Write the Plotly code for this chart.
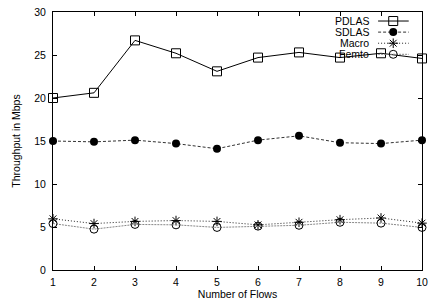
import plotly.graph_objects as go

flows = [1, 2, 3, 4, 5, 6, 7, 8, 9, 10]
pdlas = [20.0, 20.6, 26.7, 25.2, 23.1, 24.7, 25.3, 24.7, 25.2, 24.6]
sdlas = [15.0, 14.9, 15.1, 14.7, 14.1, 15.1, 15.6, 14.8, 14.7, 15.1]
macro = [5.95, 5.4, 5.65, 5.75, 5.65, 5.25, 5.55, 5.85, 6.05, 5.45]
femto = [5.4, 4.75, 5.3, 5.25, 4.95, 5.1, 5.2, 5.55, 5.45, 4.95]

y_ticks = [0, 5, 10, 15, 20, 25, 30]
series_names = ["PDLAS", "SDLAS", "Macro", "Femto"]

FONT = "Liberation Sans, Arial, Helvetica, sans-serif"

styles = [
    dict(line=dict(color="black", width=1, dash="solid"),
         marker=dict(symbol="square-open", size=9, color="black", line=dict(width=1, color="black"))),
    dict(line=dict(color="#333333", width=1, dash="3px,2px"),
         marker=dict(symbol="circle", size=8, color="black")),
    dict(line=dict(color="#222222", width=1, dash="1px,2px"),
         marker=dict(symbol="asterisk-open", size=8, color="black", line=dict(width=1, color="black"))),
    dict(line=dict(color="#888888", width=1, dash="2px,1px"),
         marker=dict(symbol="circle-open", size=8, color="black", line=dict(width=1, color="black"))),
]

fig = go.Figure()
for name, vals, st in zip(series_names, [pdlas, sdlas, macro, femto], styles):
    fig.add_trace(go.Scatter(x=flows, y=vals, mode="lines+markers", name=name,
                             line=st["line"], marker=st["marker"], cliponaxis=False,
                             showlegend=False))

# gnuplot-style key: text right-aligned, sample to the right
key_rows = [0.965, 0.922, 0.879, 0.836]
for name, st, ky in zip(series_names, styles, key_rows):
    fig.add_trace(go.Scatter(x=[0.881, 0.964], y=[ky, ky], mode="lines",
                             line=st["line"], xaxis="x2", yaxis="y2",
                             showlegend=False, hoverinfo="skip", cliponaxis=False))
    fig.add_trace(go.Scatter(x=[0.922], y=[ky], mode="markers",
                             marker=st["marker"], xaxis="x2", yaxis="y2",
                             showlegend=False, hoverinfo="skip", cliponaxis=False))
    fig.add_annotation(x=0.863, y=ky, xref="paper", yref="paper", text=name,
                       showarrow=False, xanchor="right", yanchor="middle",
                       font=dict(family=FONT, size=10.5, color="black"))

axis_common = dict(showline=True, linecolor="black", linewidth=1, mirror="ticks",
                   ticks="inside", ticklen=4, tickcolor="black", tickwidth=1,
                   showgrid=False, zeroline=False, automargin=False,
                   tickfont=dict(family=FONT, size=10.5, color="black"))

fig.update_layout(
    width=429, height=306,
    margin=dict(l=53, r=7, t=12, b=36, autoexpand=False),
    paper_bgcolor="white", plot_bgcolor="white",
    xaxis=dict(range=[1, 10], tickvals=flows, ticktext=[str(f) for f in flows],
               ticklabelstandoff=2,
               title=dict(text="Number of Flows", standoff=2,
                          font=dict(family=FONT, size=10.5, color="black")),
               **axis_common),
    yaxis=dict(range=[0, 30], tickvals=y_ticks, ticktext=[str(v) for v in y_ticks],
               ticklabelstandoff=4,
               title=dict(text="Throughput in Mbps", standoff=11,
                          font=dict(family=FONT, size=10.5, color="black")),
               **axis_common),
    xaxis2=dict(overlaying="x", range=[0, 1], visible=False),
    yaxis2=dict(overlaying="y", range=[0, 1], visible=False),
    showlegend=False,
)

fig.write_html("out.html", config={"displayModeBar": False},
               post_script="document.body.style.margin='0';document.body.style.padding='0';document.body.style.overflow='hidden';")
